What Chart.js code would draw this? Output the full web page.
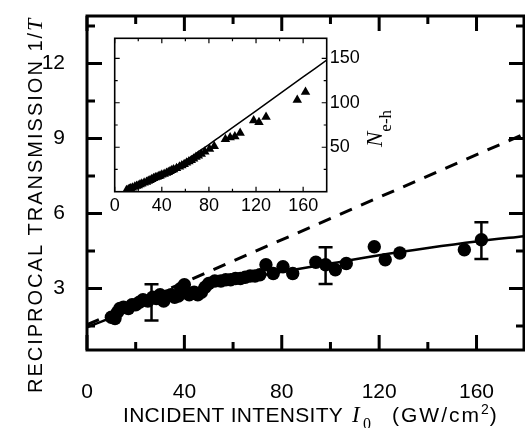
<!DOCTYPE html>
<html>
<head>
<meta charset="utf-8">
<script src="https://cdn.jsdelivr.net/npm/chart.js@4.4.0/dist/chart.umd.min.js"></script>
<style>
  html, body { margin: 0; padding: 0; background: #fff; }
  #wrap { position: relative; width: 525px; height: 428px; }
  #mainChart { position: absolute; left: 0; top: 0; }
  #insetChart { position: absolute; left: 100px; top: 30px; }
</style>
</head>
<body>
<div id="wrap">
  <canvas id="mainChart" width="525" height="428"></canvas>
  <canvas id="insetChart" width="300" height="200"></canvas>
</div>
<script>
// measured points: 1/T vs incident intensity (GW/cm2)
var intensity = [10, 11.5, 12.5, 13.5, 15, 17, 18.5, 20, 21.5, 23, 25, 27, 28.5, 30, 31.5, 33, 34.5, 36, 37.5, 38.5,
                 40, 42, 44, 45.5, 47, 48.5, 50, 52.5, 55, 57, 59, 61, 63, 65, 67, 69, 71, 73.5, 76.5, 80.5,
                 84.5, 94, 98, 102, 106.5, 118, 122.5, 128.5, 155, 162];
var reciprocalT = [1.85, 1.8, 2.05, 2.2, 2.25, 2.2, 2.35, 2.35, 2.45, 2.55, 2.5, 2.65, 2.6, 2.75, 2.5, 2.7, 2.75, 2.65, 2.7, 3.0,
                   3.15, 2.75, 2.85, 2.75, 2.85, 3.05, 3.2, 3.3, 3.3, 3.35, 3.35, 3.4, 3.4, 3.45, 3.5, 3.5, 3.55, 3.95, 3.6, 3.87,
                   3.6, 4.05, 3.95, 3.75, 4.0, 4.67, 4.15, 4.42, 4.55, 4.95];

// solid fit curve and dashed linear curve
var fitX = [0, 20, 40, 60, 80, 100, 120, 140, 160, 180];
var fitY = [1.45, 2.2, 2.85, 3.3, 3.67, 4.0, 4.33, 4.62, 4.88, 5.1];
var linearX = [0, 180];
var linearY = [1.55, 9.2];

// error bars
var errX = [26.5, 98, 162];
var errLow = [1.72, 3.18, 4.18];
var errHigh = [3.17, 4.65, 5.65];

// inset: electron-hole pairs N_e-h
var carriers = [1.5, 2.5, 3, 3.5, 4.5, 5.5, 6.5, 7, 8, 9, 10, 11, 12, 13, 14, 15, 16, 16.5, 17.5, 18,
                19, 20, 21, 22, 23, 24, 25, 26.5, 28, 29.5, 31, 32.5, 34, 35.5, 37, 39, 40.5, 42.5, 45, 48,
                51, 59, 61, 62, 66, 80, 78, 84, 103, 112];
var modelX = [8, 20, 30, 40, 50, 60, 70, 80, 90, 100, 120, 140, 160, 180];
var modelN = [0, 8, 15, 21, 27.5, 35, 44, 53, 62.5, 72, 91, 110, 129, 148];

// tick labels
var xTicks = [0, 40, 80, 120, 160];
var yTicks = [3, 6, 9, 12];
var insetXTicks = [0, 40, 80, 120, 160];
var insetYTicks = [50, 100, 150];

function pts(xs, ys) {
  return xs.map(function (x, i) { return { x: x, y: ys[i] }; });
}

function range(from, to, step) {
  var out = [];
  for (var v = from; v <= to + 1e-9; v += step) out.push(Math.round(v * 100) / 100);
  return out;
}

// no extra room for the end labels, keeps the plot box where it should be
function noPad(s) {
  s.paddingTop = 0; s.paddingBottom = 0; s.paddingLeft = 0; s.paddingRight = 0;
}

// box with inward ticks on all four sides
function drawBox(chart, o) {
  var ctx = chart.ctx, a = chart.chartArea;
  var xs = chart.scales.x, ys = chart.scales.y;
  ctx.save();
  ctx.strokeStyle = '#000';
  ctx.lineWidth = o.tickWidth;
  ctx.beginPath();
  xs.ticks.forEach(function (t) {
    var px = xs.getPixelForValue(t.value);
    var len = o.xMajor.indexOf(t.value) >= 0 ? o.major : o.minor;
    ctx.moveTo(px, a.bottom); ctx.lineTo(px, a.bottom - len);
    ctx.moveTo(px, a.top); ctx.lineTo(px, a.top + len);
  });
  ys.ticks.forEach(function (t) {
    var py = ys.getPixelForValue(t.value);
    var len = o.yMajor.indexOf(t.value) >= 0 ? o.major : o.minor;
    ctx.moveTo(a.left, py); ctx.lineTo(a.left + len, py);
    ctx.moveTo(a.right, py); ctx.lineTo(a.right - len, py);
  });
  ctx.stroke();
  ctx.lineWidth = o.frameWidth;
  ctx.strokeRect(a.left, a.top, a.right - a.left, a.bottom - a.top);
  ctx.restore();
}

// text in pieces, char by char so the spacing is under control
function drawPieces(ctx, pieces, x, y) {
  ctx.letterSpacing = '0px';
  pieces.forEach(function (p) {
    if (p.at !== undefined) x = p.at;
    ctx.font = p.font;
    for (var i = 0; i < p.text.length; i++) {
      var ch = p.text.charAt(i);
      ctx.fillText(ch, x, y + (p.dy || 0));
      x += ctx.measureText(ch).width + (p.spacing || 0);
    }
  });
}

var sans = '"Liberation Sans", Arial, sans-serif';
var serif = '"Liberation Serif", "Times New Roman", serif';

var mainBox = {
  id: 'mainBox',
  afterDraw: function (chart) {
    drawBox(chart, { tickWidth: 3, frameWidth: 3, major: 15, minor: 8, xMajor: xTicks, yMajor: yTicks });
    var ctx = chart.ctx;
    ctx.save();
    ctx.fillStyle = '#000';
    ctx.textBaseline = 'alphabetic';
    ctx.textAlign = 'left';
    drawPieces(ctx, [
      { text: 'INCIDENT INTENSITY', font: '21px ' + sans, spacing: 0.3, at: 123 },
      { text: 'I', font: 'italic 23px ' + serif, at: 352 },
      { text: '0', font: '16px ' + serif, dy: 7, at: 363 },
      { text: '(GW/cm', font: '21px ' + sans, spacing: 2, at: 392 },
      { text: '2', font: '14px ' + sans, dy: -8, spacing: 1 },
      { text: ')', font: '21px ' + sans }
    ], 123, 422);
    ctx.translate(42, 393);
    ctx.rotate(-Math.PI / 2);
    drawPieces(ctx, [
      { text: 'RECIPROCAL TRANSMISSION 1/', font: '20px ' + sans, spacing: 2 },
      { text: 'T', font: 'italic 22px ' + serif }
    ], 0, 0);
    ctx.restore();
  }
};

var mainCtx = document.getElementById('mainChart').getContext('2d');
mainCtx.letterSpacing = '2px';

var errorSets = errX.map(function (x, i) {
  return {
    type: 'line',
    data: [{ x: x, y: errLow[i] }, { x: x, y: errHigh[i] }],
    borderColor: '#000',
    borderWidth: 2.5,
    pointStyle: 'line',
    pointRadius: 7,
    pointBorderWidth: 2.5,
    pointBorderColor: '#000',
    order: 2
  };
});

new Chart(mainCtx, {
  type: 'scatter',
  data: {
    datasets: [
      {
        type: 'line',
        data: pts(fitX, fitY),
        borderColor: '#000',
        borderWidth: 2.5,
        pointRadius: 0,
        cubicInterpolationMode: 'monotone',
        order: 3
      },
      {
        type: 'line',
        data: pts(linearX, linearY),
        borderColor: '#000',
        borderWidth: 3,
        borderDash: [13, 10],
        pointRadius: 0,
        order: 4
      }
    ].concat(errorSets, [{
      data: pts(intensity, reciprocalT),
      pointStyle: 'circle',
      pointRadius: 6.7,
      backgroundColor: '#000',
      borderColor: '#000',
      borderWidth: 0,
      order: 1
    }])
  },
  options: {
    responsive: false,
    animation: false,
    devicePixelRatio: 1,
    layout: { autoPadding: false, padding: { top: 16, right: 1, left: 0, bottom: 0 } },
    plugins: { legend: { display: false }, tooltip: { enabled: false } },
    scales: {
      x: {
        type: 'linear',
        min: 0,
        max: 179.5,
        afterBuildTicks: function (s) { s.ticks = range(0, 160, 20).map(function (v) { return { value: v }; }); },
        afterFit: function (s) { s.height = 78; noPad(s); },
        grid: { display: false, drawTicks: false },
        border: { display: false },
        ticks: {
          autoSkip: false,
          maxRotation: 0,
          padding: 30,
          color: '#000',
          font: { family: sans, size: 21 },
          callback: function (v) { return xTicks.indexOf(v) >= 0 ? String(v) : ''; }
        }
      },
      y: {
        type: 'linear',
        min: 0.54,
        max: 13.9,
        afterBuildTicks: function (s) { s.ticks = range(1.5, 13.5, 1.5).map(function (v) { return { value: v }; }); },
        afterFit: function (s) { s.width = 87; noPad(s); },
        grid: { display: false, drawTicks: false },
        border: { display: false },
        ticks: {
          autoSkip: false,
          padding: 22,
          color: '#000',
          font: { family: sans, size: 21 },
          callback: function (v) { return yTicks.indexOf(v) >= 0 ? String(v) : ''; }
        }
      }
    }
  },
  plugins: [mainBox]
});

// inset chart
var insetBox = {
  id: 'insetBox',
  beforeDraw: function (chart) {
    var ctx = chart.ctx, a = chart.chartArea;
    ctx.save();
    ctx.fillStyle = '#fff';
    ctx.fillRect(a.left, a.top, a.right - a.left, a.bottom - a.top);
    ctx.restore();
  },
  afterDraw: function (chart) {
    drawBox(chart, { tickWidth: 1.2, frameWidth: 1.6, major: 5, minor: 3, xMajor: insetXTicks, yMajor: insetYTicks });
    var ctx = chart.ctx;
    ctx.save();
    ctx.fillStyle = '#000';
    ctx.textAlign = 'left';
    ctx.textBaseline = 'alphabetic';
    ctx.translate(282, 117);
    ctx.rotate(-Math.PI / 2);
    drawPieces(ctx, [
      { text: 'N', font: 'italic 23px ' + serif },
      { text: 'e-h', font: '17px ' + serif, dy: 9 }
    ], 0, 0);
    ctx.restore();
  }
};

new Chart(document.getElementById('insetChart'), {
  type: 'scatter',
  data: {
    datasets: [
      {
        type: 'line',
        data: pts(modelX, modelN),
        borderColor: '#000',
        borderWidth: 1.5,
        pointRadius: 0,
        cubicInterpolationMode: 'monotone',
        order: 2
      },
      {
        data: pts(intensity, carriers),
        pointStyle: 'triangle',
        pointRadius: 5.5,
        backgroundColor: '#000',
        borderColor: '#000',
        borderWidth: 0,
        order: 1
      }
    ]
  },
  options: {
    responsive: false,
    animation: false,
    devicePixelRatio: 1,
    layout: { autoPadding: false, padding: { top: 8.3, left: 14.7, right: 0, bottom: 0 } },
    plugins: { legend: { display: false }, tooltip: { enabled: false } },
    scales: {
      x: {
        type: 'linear',
        min: 0,
        max: 180,
        afterBuildTicks: function (s) { s.ticks = range(0, 160, 20).map(function (v) { return { value: v }; }); },
        afterFit: function (s) { s.height = 38.3; noPad(s); },
        grid: { display: false, drawTicks: false },
        border: { display: false },
        ticks: {
          autoSkip: false,
          maxRotation: 0,
          padding: 4,
          color: '#000',
          font: { family: sans, size: 18 },
          callback: function (v) { return insetXTicks.indexOf(v) >= 0 ? String(v) : ''; }
        }
      },
      y: {
        type: 'linear',
        position: 'right',
        min: 0,
        max: 172.5,
        afterBuildTicks: function (s) { s.ticks = range(25, 150, 25).map(function (v) { return { value: v }; }); },
        afterFit: function (s) { s.width = 73.3; noPad(s); },
        grid: { display: false, drawTicks: false },
        border: { display: false },
        ticks: {
          autoSkip: false,
          padding: 3,
          color: '#000',
          font: { family: sans, size: 18 },
          callback: function (v) { return insetYTicks.indexOf(v) >= 0 ? String(v) : ''; }
        }
      }
    }
  },
  plugins: [insetBox]
});
</script>
</body>
</html>
